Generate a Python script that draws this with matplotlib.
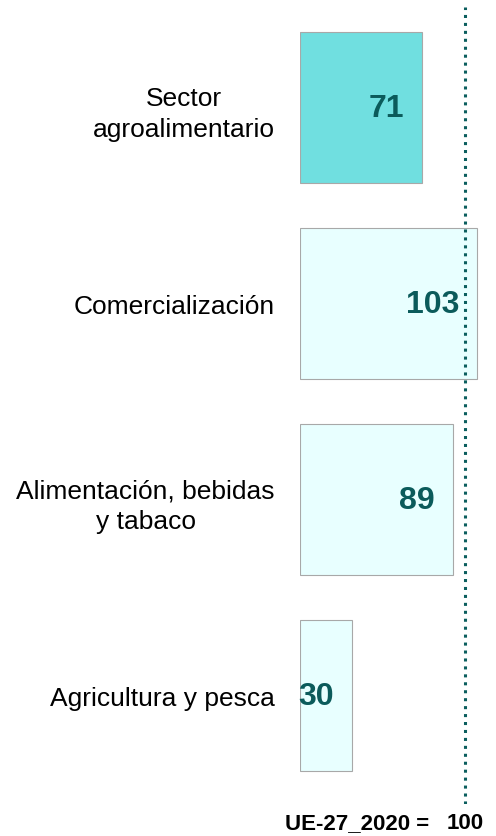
import numpy as np
import matplotlib
matplotlib.use('Agg')
import matplotlib.pyplot as plt
import matplotlib.transforms as mtransforms

plt.rcParams['font.family'] = ['Liberation Sans', 'DejaVu Sans']

# ── Data (bottom to top) ─────────────────────────────────────────────────────
categories = ['Agricultura y pesca', 'Alimentación, bebidas\ny tabaco',
              'Comercialización', 'Sector\nagroalimentario']
values = [30, 89, 103, 71]
bar_colors = ['#E8FFFF', '#E8FFFF', '#E8FFFF', '#70DFE0']
ue_ref_label = '100'
ue_ref_pos = 96          # where the dotted reference line sits on the bar scale
ue_ref_text = 'UE-27_2020 ='

# ── Figure / axes ────────────────────────────────────────────────────────────
W, H, DPI = 496, 837, 100
fig = plt.figure(figsize=(W / DPI, H / DPI), dpi=DPI)
ax = fig.add_axes([300 / W, 32 / H, 196 / W, 797 / H])

y = np.arange(len(categories))
ax.barh(y, values, height=0.77, color=bar_colors, edgecolor='#A8A8A8',
        linewidth=0.8, zorder=2)
ax.set_xlim(0, 196 / 1.72)
ax.set_ylim(-0.551, 3.513)

ax.axvline(ue_ref_pos, color='#0B5E5E', linewidth=2.2,
           linestyle=(0, (1, 1.6)), dash_capstyle='butt', zorder=3)

# value labels inside bar ends
for yi, v in zip(y, values):
    ax.annotate(str(v), xy=(v, yi), xytext=(-18, 0), textcoords='offset pixels',
                ha='right', va='center', fontsize=23, fontweight='bold',
                color='#0B5B5B', zorder=4)

# category labels
ax.set_yticks(y)
ax.set_yticklabels(categories, fontsize=19, multialignment='center',
                   linespacing=1.35)
ax.tick_params(axis='y', length=0, pad=18)
ax.set_xticks([])
for s in ax.spines.values():
    s.set_visible(False)

# reference label at bottom
trans = mtransforms.blended_transform_factory(ax.transData, fig.transFigure)
ax.text(ue_ref_pos, 13 / H, ue_ref_label, transform=trans, ha='center',
        va='center', fontsize=16, fontweight='bold', color='black')
ax.annotate(ue_ref_text, xy=(ue_ref_pos, 13 / H), xycoords=trans,
            xytext=(-36, 0), textcoords='offset pixels', ha='right',
            va='center', fontsize=16, fontweight='bold', color='black',
            annotation_clip=False)

fig.savefig('out.png', dpi=DPI)
